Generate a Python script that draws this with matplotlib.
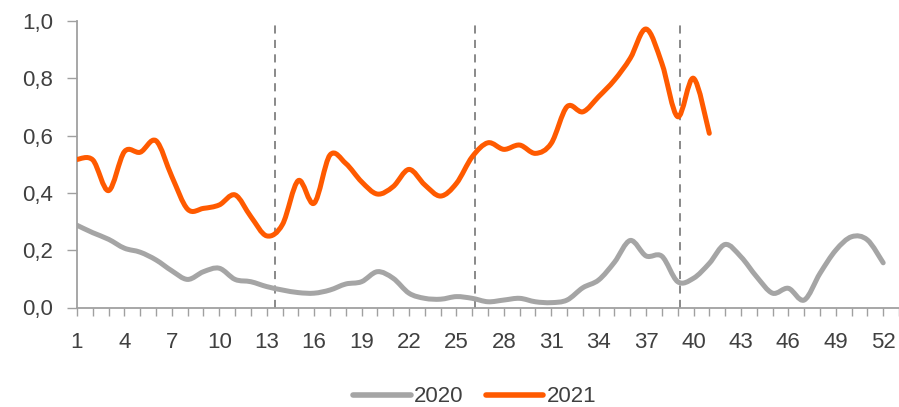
import matplotlib
matplotlib.use("Agg")
import matplotlib.pyplot as plt
from matplotlib.lines import Line2D
from matplotlib.patches import PathPatch
from matplotlib.path import Path
import numpy as np

plt.rcParams["font.family"] = ["Liberation Sans", "DejaVu Sans"]

weeks_2020 = list(range(1, 53))
values_2020 = [
    0.287, 0.261, 0.238, 0.207, 0.193, 0.166, 0.128, 0.098, 0.125, 0.137,
    0.098, 0.090, 0.073, 0.061, 0.052, 0.050, 0.061, 0.082, 0.090, 0.125,
    0.102, 0.050, 0.032, 0.029, 0.038, 0.032, 0.020, 0.026, 0.032, 0.020,
    0.017, 0.026, 0.069, 0.096, 0.158, 0.234, 0.180, 0.179, 0.090, 0.102,
    0.154, 0.220, 0.177, 0.107, 0.050, 0.067, 0.026, 0.119, 0.200, 0.247,
    0.236, 0.156,
]
weeks_2021 = list(range(1, 42))
values_2021 = [
    0.517, 0.515, 0.408, 0.544, 0.542, 0.582, 0.457, 0.343, 0.346, 0.358,
    0.393, 0.317, 0.250, 0.290, 0.443, 0.364, 0.532, 0.503, 0.439, 0.396,
    0.422, 0.482, 0.428, 0.389, 0.433, 0.526, 0.575, 0.552, 0.567, 0.538,
    0.573, 0.701, 0.683, 0.736, 0.794, 0.870, 0.972, 0.852, 0.666, 0.800,
    0.608,
]
quarter_marks = [13.5, 26.2, 39.15]
x_labels = list(range(1, 53, 3))
y_ticks = [0.0, 0.2, 0.4, 0.6, 0.8, 1.0]

GREY = "#A5A5A5"
ORANGE = "#FF5A00"
AXIS = "#A0A0A0"
TEXT = "#404040"


def smooth_path(x, y):
    # Excel-like smoothed line: cubic Bezier through the data points
    pts = np.column_stack([x, y]).astype(float)
    n = len(pts)
    verts = [pts[0]]
    codes = [Path.MOVETO]
    for i in range(n - 1):
        p0 = pts[max(i - 1, 0)]
        p1 = pts[i]
        p2 = pts[i + 1]
        p3 = pts[min(i + 2, n - 1)]
        verts += [p1 + (p2 - p0) / 6.0, p2 - (p3 - p1) / 6.0, p2]
        codes += [Path.CURVE4] * 3
    return Path(verts, codes)


fig = plt.figure(figsize=(8.99, 4.07), dpi=100)
ax = fig.add_axes([77 / 899, 99.5 / 407, 822 / 899, 286.5 / 407])

for xq in quarter_marks:
    ax.axvline(xq, ymin=0, ymax=1, color="#808080", lw=1.3, ls=(0, (4.5, 3.5)), zorder=1)

ax.add_patch(PathPatch(smooth_path(weeks_2020, values_2020), fill=False,
                       edgecolor=GREY, lw=3.6, capstyle="round", joinstyle="round", zorder=2))
ax.add_patch(PathPatch(smooth_path(weeks_2021, values_2021), fill=False,
                       edgecolor=ORANGE, lw=3.6, capstyle="round", joinstyle="round", zorder=3))

ax.set_xlim(1, 53)
ax.set_ylim(0, 1.0)

ax.set_xticks(range(1, 54))
ax.set_xticklabels([str(w) if w in x_labels else "" for w in range(1, 54)])
ax.set_yticks(y_ticks)
ax.set_yticklabels([f"{v:.1f}".replace(".", ",") for v in y_ticks])

ax.tick_params(axis="x", direction="out", length=5.5, width=1.0, color=AXIS,
               pad=12, labelsize=16, labelcolor=TEXT)
ax.tick_params(axis="y", direction="out", length=7, width=1.0, color=AXIS,
               pad=10, labelsize=16, labelcolor=TEXT)

for side in ("top", "right"):
    ax.spines[side].set_visible(False)
for side in ("left", "bottom"):
    ax.spines[side].set_color(AXIS)
    ax.spines[side].set_linewidth(1.3)

handles = [
    Line2D([], [], color=GREY, lw=4, solid_capstyle="round"),
    Line2D([], [], color=ORANGE, lw=4, solid_capstyle="round"),
]
leg = fig.legend(handles, ["2020", "2021"], loc="center", bbox_to_anchor=(0.528, 0.025),
                 ncol=2, frameon=False, fontsize=16, handlelength=2.6,
                 handletextpad=0.15, columnspacing=1.0)
for t in leg.get_texts():
    t.set_color(TEXT)

fig.savefig("out.png", dpi=100)
